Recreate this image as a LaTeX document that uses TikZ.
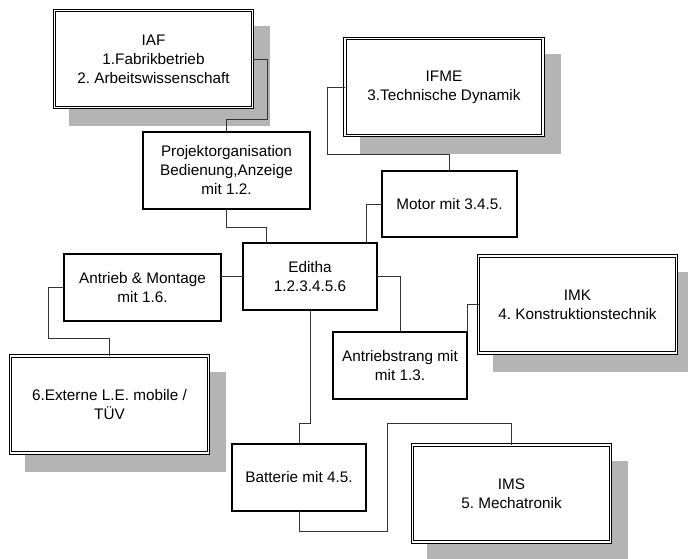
\documentclass[tikz,border=0pt]{standalone}
\usepackage{fontspec}
\setmainfont{Liberation Sans}
\usetikzlibrary{backgrounds,calc}
\definecolor{shadowgray}{HTML}{B4B4B4}
\definecolor{linegray}{HTML}{333333}
\newcommand\dropshade[1]{\fill[shadowgray] ($(#1.north west)+(14.5,15.5)$) rectangle ($(#1.south east)+(17.5,18.5)$);}
\frenchspacing
\begin{document}
\begin{tikzpicture}[x=1pt,y=-1pt,
  font=\fontsize{15.3}{19}\selectfont\frenchspacing,
  box/.style={draw, line width=1.1pt, fill=white, align=center, inner sep=0pt, outer sep=0pt},
  dbox/.style={draw, double=white, line width=0.9pt, double distance=1.6pt, fill=white,
    align=center, inner sep=0pt, outer sep=0pt, minimum width=198pt, minimum height=97pt},
  conn/.style={draw=linegray, line width=0.9pt}]
\useasboundingbox (0,0) rectangle (688,558);

% double-bordered institute boxes
\node[dbox] (iaf)  at (153.5,59)  {IAF\\1.Fabrikbetrieb\\2. Arbeitswissenschaft};
\node[dbox] (ifme) at (444,87)    {IFME\\3.Technische Dynamik};
\node[dbox] (imk)  at (577.5,304.5) {IMK\\4. Konstruktionstechnik};
\node[dbox] (ims)  at (511.5,493.5) {IMS\\5. Mechatronik};
\node[dbox] (ext)  at (109.5,404.5) {6.Externe L.E. mobile /\\TÜV};

% simple boxes
\node[box, minimum width=167pt, minimum height=77pt] (proj) at (226.5,170.5) {Projektorganisation\\Bedienung,Anzeige\\mit 1.2.};
\node[box, minimum width=134pt, minimum height=67pt] (edi) at (310,276.5) {Editha\\1.2.3.4.5.6};
\node[box, minimum width=157pt, minimum height=67pt] (antr) at (142.5,287.5) {Antrieb \& Montage\\mit 1.6.};
\node[box, minimum width=135pt, minimum height=66pt] (mot) at (449.5,204) {Motor mit 3.4.5.};
\node[box, minimum width=134pt, minimum height=67pt] (astr) at (400,365.5) {Antriebstrang mit\\mit 1.3.};
\node[box, minimum width=134pt, minimum height=67pt] (bat) at (299,477.5) {Batterie mit 4.5.};

% shadows
\begin{scope}[on background layer]
  \dropshade{iaf}
  \dropshade{ifme}
  \dropshade{imk}
  \dropshade{ims}
  \dropshade{ext}
\end{scope}

% connectors
\draw[conn] (iaf.east) -| (267,119) -| (proj.north);
\draw[conn] (proj.south) -- ++(0,18) -| ($(edi.north west)+(23,0)$);
\draw[conn] (edi.west) -- (edi.west -| antr.east);
\draw[conn] (antr.west) -| (48,338) -| (ext.north);
\draw[conn] (edi.south) |- (299,423) -- (bat.north);
\draw[conn] (bat.south) |- (387,531) -- (387,423) -| (ims.north);
\draw[conn] (edi.east) -| (astr.north);
\draw[conn] (astr.north east) |- (imk.west);
\draw[conn] ($(edi.north east)+(-11,0)$) |- (mot.west);
\draw[conn] (mot.north) -- ++(0,-17) -| (327,87) -- (ifme.west);
\end{tikzpicture}
\end{document}
